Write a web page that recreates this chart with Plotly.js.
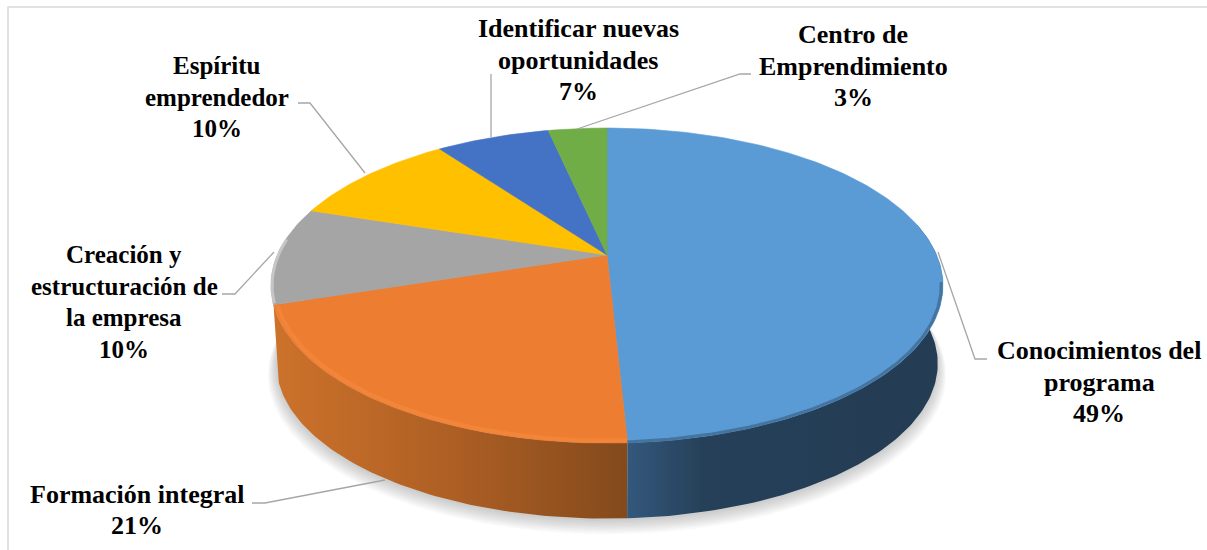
<!DOCTYPE html>
<html>
<head>
<meta charset="utf-8">
<script src="https://cdn.plot.ly/plotly-3.0.1.min.js"></script>
<style>
    html, body { margin: 0; padding: 0; background: #fff; overflow: hidden; }
    #chart { width: 1207px; height: 550px; }
</style>
</head>
<body>
<div id="chart"></div>
<script>
// values, the printed labels are these rounded
const categories = ['Conocimientos del<br>programa', 'Formación integral', 'Creación y<br>estructuración de<br>la empresa', 'Espíritu<br>emprendedor', 'Identificar nuevas<br>oportunidades', 'Centro de<br>Emprendimiento'];
const shares = [49.2, 20.8, 10, 10, 6.6, 3.4];
const faceColors = ['#5B9BD5', '#ED7D31', '#A5A5A5', '#FFC000', '#4472C4', '#70AD47'];

// label centres and font sizes, one per category
const labelX = [1099, 137, 124, 217, 578, 853];
const labelY = [382, 510, 302, 97, 60, 66];
const labelSize = [26, 26, 25, 25, 26, 26];
const labelLineGap = 31.5;

// leader lines as svg paths, one per category
const leaderPaths = [
    'M938,252 L975,359 L987,359',
    'M385,480 L265,503 L252,503',
    'M274,252 L235,294 L222,294',
    'M365,173 L310,103 L298,103',
    'M491,137 L491,74',
    'M577,129 L740,74 L751,74'
];

// how the tilted disc is projected on the page
const disc = { x: 607, y: 255, a: 329.6, b: 151.6, p: 0.194 };
const wallDrop = 79;
const wallScale = 0.985;

/**
 * Projects a point of the disc to page coordinates.
 * @param {number} deg angle clockwise from 12 o'clock
 * @param {number} r radius, 1 is the rim
 * @param {number} drop how far the disc is moved down
 * @returns {Array} x and y
 */
function project(deg, r, drop) {
    const rad = deg * Math.PI / 180;
    const u = r * Math.sin(rad);
    const v = -r * Math.cos(rad);
    const w = 1 - disc.p * v;
    return [disc.x + disc.a * u / w, disc.y + drop + disc.b * v / w];
}

/**
 * Points along an arc of the disc.
 * @returns {Object} arrays x and y
 */
function arc(from, to, r, drop) {
    const x = [];
    const y = [];
    const steps = Math.max(2, Math.ceil(Math.abs(to - from)));
    for (let i = 0; i <= steps; i++) {
        const pt = project(from + (to - from) * i / steps, r, drop);
        x.push(pt[0]);
        y.push(pt[1]);
    }
    return { x: x, y: y };
}

/** Turns a share index into its start and end angle. */
function sliceAngles(index) {
    const total = shares.reduce((a, b) => a + b, 0);
    let before = 0;
    for (let i = 0; i < index; i++) {
        before += shares[i];
    }
    return [before / total * 360, (before + shares[index]) / total * 360];
}

function polygon(x, y, color) {
    return {
        x: x, y: y, type: 'scatter', mode: 'lines', fill: 'toself',
        fillcolor: color, line: { color: color, width: 0.6 }, hoverinfo: 'skip', showlegend: false
    };
}

function rimLine(from, to, r, color, width) {
    const a = arc(from, to, r, 0);
    return {
        x: a.x, y: a.y, type: 'scatter', mode: 'lines',
        line: { color: color, width: width }, hoverinfo: 'skip', showlegend: false
    };
}

/** Side wall of the disc between two angles, darkening from left to right. */
function wall(from, to, colors, start, stop) {
    const top = arc(from, to, 1, 0);
    const bottom = arc(to, from, wallScale, wallDrop);
    const trace = polygon(top.x.concat(bottom.x), top.y.concat(bottom.y), colors[0][1]);
    trace.line.width = 0;
    trace.fillgradient = { type: 'horizontal', colorscale: colors, start: start, stop: stop };
    return trace;
}

const traces = [];

// soft shadow, stacked see-through discs
for (let i = 0; i < 9; i++) {
    const s = arc(0, 360, wallScale + 0.003 * i, wallDrop + 2 + i);
    traces.push(polygon(s.x, s.y, 'rgba(90,90,90,0.035)'));
    traces[traces.length - 1].line.width = 0;
}

// walls
const blueEnd = sliceAngles(0)[1];
const orangeEnd = sliceAngles(1)[1];
traces.push(wall(orangeEnd, blueEnd, [[0, '#CC722B'], [0.5, '#AE5F24'], [1, '#834A1C']], 275, 627));
traces.push(wall(blueEnd, 78, [[0, '#33587C'], [0.3, '#264059'], [1, '#243D55']], 627, 880));

// top faces
shares.forEach((share, i) => {
    const ang = sliceAngles(i);
    const edge = arc(ang[0], ang[1], 1, 0);
    const x = [disc.x].concat(edge.x, [disc.x]);
    const y = [disc.y].concat(edge.y, [disc.y]);
    traces.push(polygon(x, y, faceColors[i]));
});

// bevel along the rim
traces.push(rimLine(blueEnd, orangeEnd - 0.5, 0.99, '#F3853A', 4));
traces.push(rimLine(orangeEnd + 0.5, orangeEnd + 24, 0.997, '#C6C6C6', 3));
traces.push(rimLine(100, blueEnd, 0.995, '#45749F', 3));

// every label line is its own annotation so the line gap can match the picture
const annotations = [];
categories.forEach((name, i) => {
    const lines = name.split('<br>').concat(Math.round(shares[i]) + '%');
    lines.forEach((line, k) => {
        annotations.push({
            x: labelX[i],
            y: labelY[i] + (k - (lines.length - 1) / 2) * labelLineGap,
            xref: 'x',
            yref: 'y',
            text: '<b>' + line + '</b>',
            showarrow: false,
            font: { family: '"Liberation Serif", serif', size: labelSize[i], color: '#000' }
        });
    });
});

const shapes = leaderPaths.map(p => ({
    type: 'path', path: p, xref: 'x', yref: 'y', line: { color: '#A6A6A6', width: 1.3 }
}));

// chart frame, the right and bottom edges fall off the picture
shapes.push({
    type: 'path', path: 'M8,550 L8,7 L1207,7', xref: 'x', yref: 'y', line: { color: '#D9D9D9', width: 1.5 }
});

const layout = {
    width: 1207,
    height: 550,
    margin: { l: 0, r: 0, t: 0, b: 0 },
    paper_bgcolor: '#fff',
    plot_bgcolor: '#fff',
    showlegend: false,
    xaxis: { range: [0, 1207], visible: false, fixedrange: true },
    yaxis: { range: [550, 0], visible: false, fixedrange: true },
    annotations: annotations,
    shapes: shapes
};

Plotly.newPlot('chart', traces, layout, { displayModeBar: false, staticPlot: true });
</script>
</body>
</html>
